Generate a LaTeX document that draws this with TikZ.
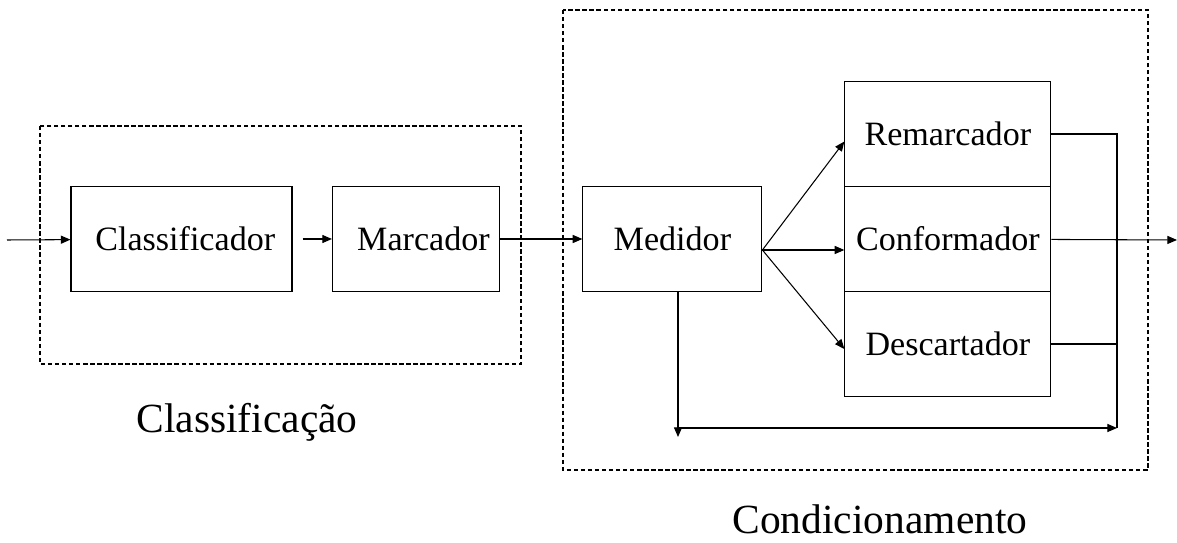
\documentclass[tikz,border=0pt]{standalone}
\usepackage{fontspec}
\setmainfont{Liberation Serif}
\usepackage{tikz}
\usetikzlibrary{arrows.meta}
\tikzstyle{bloco} = [rectangle, minimum height=2.09cm, text centered, draw=black, line width=0.6pt, font=\fontsize{19.4}{23}\selectfont]
\tikzstyle{grupo} = [dash pattern=on 2.5pt off 1.5pt, line width=0.6pt]
\tikzstyle{rotulo} = [anchor=base, font=\fontsize{23.6}{28}\selectfont]
\tikzstyle{arrow} = [line width=0.6pt,->,>={Triangle[length=5.5pt,width=4.6pt]}]
\tikzstyle{linha} = [line width=0.6pt]

\begin{document}
\begin{tikzpicture}[x=0.02cm, y=-0.02cm, node distance=2.1cm]
\useasboundingbox (0,0) rectangle (1177,543);
\draw [grupo] (40,126) rectangle (521,364);
\draw [grupo] (563,10) rectangle (1148,470);
\node (classificador) [bloco, minimum width=4.42cm] at (181.5,239) {\hspace{0.15cm}Classificador};
\node (marcador) [bloco, minimum width=3.34cm, right of = classificador, xshift=2.59cm] {\hspace{0.3cm}Marcador};
\node (medidor) [bloco, minimum width=3.58cm, right of = marcador, xshift=3.03cm] {Medidor};
\node (conformador) [bloco, minimum width=4.12cm, right of = medidor, xshift=3.41cm] {Conformador};
\node (remarcador) [bloco, minimum width=4.12cm, above of = conformador] {Remarcador};
\node (descartador) [bloco, minimum width=4.12cm, below of = conformador] {Descartador};
\node (rotuloA) [rotulo] at (247,433) {Classificação};
\node (rotuloB) [rotulo] at (880,534) {Condicionamento};
\coordinate (entrada) at (7,240);
\coordinate (saida) at (1177,240);
\coordinate (coletor) at (1117,428);
\coordinate (retorno) at (678,428);
\coordinate (fundo) at (678,437);
\draw [arrow] (entrada) -- (classificador);
\draw [arrow, shorten <=0.2cm] (classificador) -- (marcador);
\draw [arrow] (marcador) -- (medidor);
\draw [arrow] ([yshift=-0.22cm]medidor.east) -- ([yshift=-0.15cm]remarcador.west);
\draw [arrow] ([yshift=-0.22cm]medidor.east) -- ([yshift=-0.22cm]conformador.west);
\draw [arrow] ([yshift=-0.22cm]medidor.east) -- ([yshift=-0.1cm]descartador.west);
\draw [arrow] (conformador) -- (saida);
\draw [linha] (remarcador.east) -| (coletor);
\draw [linha] (descartador.east) -- (descartador.east -| coletor);
\draw [arrow] (retorno) -- (coletor);
\draw [arrow] (medidor.south -| fundo) -- (fundo);
\end{tikzpicture}
\end{document}
